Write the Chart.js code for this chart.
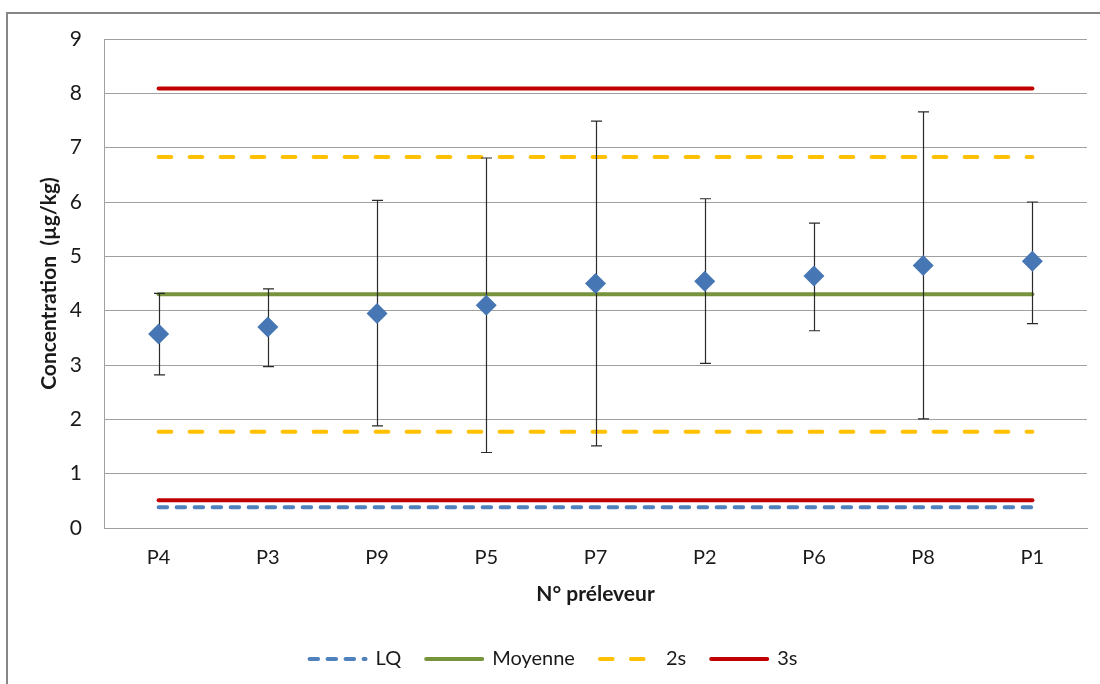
<!DOCTYPE html>
<html>
<head>
<meta charset="utf-8">
<script src="https://cdn.jsdelivr.net/npm/chart.js@4.4.1/dist/chart.umd.min.js"></script>
<style>
  html, body { margin: 0; padding: 0; background: #ffffff; }
  canvas { display: block; }
</style>
</head>
<body>
<canvas id="c" width="1100" height="684"></canvas>
<script>
// ---- Data ----
const categories = ['P4', 'P3', 'P9', 'P5', 'P7', 'P2', 'P6', 'P8', 'P1'];
const concentration = [3.57, 3.70, 3.95, 4.10, 4.50, 4.54, 4.64, 4.83, 4.91];
const errorLow  = [2.82, 2.97, 1.88, 1.39, 1.51, 3.03, 3.63, 2.01, 3.76];
const errorHigh = [4.32, 4.40, 6.03, 6.81, 7.49, 6.06, 5.61, 7.66, 6.00];
const lqValues      = [0.38, 0.38, 0.38, 0.38, 0.38, 0.38, 0.38, 0.38, 0.38];
const moyenneValues = [4.30, 4.30, 4.30, 4.30, 4.30, 4.30, 4.30, 4.30, 4.30];
const twoSHigh      = [6.83, 6.83, 6.83, 6.83, 6.83, 6.83, 6.83, 6.83, 6.83];
const twoSLow       = [1.77, 1.77, 1.77, 1.77, 1.77, 1.77, 1.77, 1.77, 1.77];
const threeSHigh    = [8.09, 8.09, 8.09, 8.09, 8.09, 8.09, 8.09, 8.09, 8.09];
const threeSLow     = [0.51, 0.51, 0.51, 0.51, 0.51, 0.51, 0.51, 0.51, 0.51];
const yTicks = [0, 1, 2, 3, 4, 5, 6, 7, 8, 9];

const FONT = 'Lato, "Liberation Sans", sans-serif';

const framePlugin = {
  id: 'frame',
  beforeDraw(chart) {
    const ctx = chart.ctx;
    ctx.save();
    ctx.fillStyle = '#ffffff';
    ctx.fillRect(0, 0, chart.width, chart.height);
    ctx.strokeStyle = '#868686';
    ctx.lineWidth = 2;
    ctx.strokeRect(7, 13, 1300, 900);
    ctx.restore();
  },
  afterLayout(chart) {
    // nudge the legend block to the right, as in the reference
    if (chart.legend) {
      chart.legend.left += 10;
      chart.legend.right += 10;
    }
  }
};

const errorBarPlugin = {
  id: 'errorBars',
  beforeDatasetDraw(chart, args) {
    if (args.index !== 0) return;
    const ctx = chart.ctx;
    const xs = chart.scales.x, ys = chart.scales.y;
    ctx.save();
    ctx.strokeStyle = '#2a2a2a';
    ctx.lineWidth = 1.2;
    categories.forEach((c, i) => {
      const px = Math.round(xs.getPixelForValue(i)) + 0.5;
      const top = ys.getPixelForValue(errorHigh[i]);
      const bot = ys.getPixelForValue(errorLow[i]);
      ctx.beginPath();
      ctx.moveTo(px, top); ctx.lineTo(px, bot);
      ctx.moveTo(px - 5.5, top); ctx.lineTo(px + 5.5, top);
      ctx.moveTo(px - 5.5, bot); ctx.lineTo(px + 5.5, bot);
      ctx.stroke();
    });
    ctx.restore();
  }
};

function refLine(label, data, color, dash, inLegend) {
  return {
    type: 'line',
    label: label,
    data: data,
    borderColor: color,
    backgroundColor: color,
    borderWidth: 4,
    borderDash: dash,
    borderCapStyle: 'round',
    pointRadius: 0,
    pointHoverRadius: 0,
    fill: false,
    tension: 0,
    showInLegend: inLegend
  };
}

new Chart(document.getElementById('c'), {
  type: 'line',
  data: {
    labels: categories,
    datasets: [
      {
        label: 'Concentration',
        data: concentration,
        showLine: false,
        pointStyle: 'rectRot',
        pointRadius: 10.5,
        pointHoverRadius: 10.5,
        pointBackgroundColor: '#4677b4',
        pointBorderColor: '#4677b4',
        pointBorderWidth: 0,
        showInLegend: false
      },
      refLine('LQ', lqValues, '#4f81bd', [8.5, 9.5], true),
      refLine('Moyenne', moyenneValues, '#77933c', [], true),
      refLine('2s', twoSHigh, '#ffc000', [12.7, 18.3], true),
      refLine('3s', threeSHigh, '#c00000', [], true),
      refLine('2s', twoSLow, '#ffc000', [12.7, 18.3], false),
      refLine('3s', threeSLow, '#c00000', [], false)
    ]
  },
  options: {
    responsive: false,
    devicePixelRatio: 1,
    animation: false,
    events: [],
    layout: { padding: { left: 0, right: 13, top: 39, bottom: 5 } },
    plugins: {
      tooltip: { enabled: false },
      legend: {
        position: 'bottom',
        labels: {
          usePointStyle: true,
          pointStyle: 'line',
          pointStyleWidth: 56,
          boxWidth: 56,
          padding: 25,
          color: '#1a1a1a',
          font: { family: FONT, size: 20 },
          generateLabels(chart) {
            const items = Chart.defaults.plugins.legend.labels.generateLabels(chart);
            items.forEach(it => {
              const ds = chart.data.datasets[it.datasetIndex];
              it.lineDash = ds.borderDash || [];
              it.lineDashOffset = 0;
              it.lineWidth = ds.borderWidth || 0;
              it.strokeStyle = ds.borderColor;
              it.fillStyle = ds.borderColor;
              it.lineCap = 'round';
              it.pointStyle = 'line';
            });
            return items;
          },
          filter: (item, data) => data.datasets[item.datasetIndex].showInLegend !== false
        }
      }
    },
    scales: {
      x: {
        type: 'category',
        offset: true,
        grid: { display: false, drawTicks: false },
        border: { display: true, color: '#a0a0a0', width: 1 },
        ticks: { color: '#1a1a1a', font: { family: FONT, size: 20 }, padding: 18, maxRotation: 0 },
        title: {
          display: true,
          text: 'N° préleveur',
          color: '#1a1a1a',
          font: { family: FONT, size: 21, weight: 'bold' },
          padding: { top: 0, bottom: 17 }
        },
        afterFit(scale) { scale.height = 96; }
      },
      y: {
        min: 0,
        max: 9,
        afterBuildTicks(scale) { scale.ticks = yTicks.map(v => ({ value: v })); },
        grid: { color: '#a0a0a0', lineWidth: 1, drawTicks: false },
        border: { display: true, color: '#a0a0a0', width: 1 },
        ticks: { color: '#1a1a1a', font: { family: FONT, size: 21 }, padding: 22 },
        title: {
          display: true,
          text: 'Concentration  (µg/kg)',
          color: '#1a1a1a',
          font: { family: FONT, size: 21, weight: 'bold' },
          padding: { top: 37, bottom: 0 }
        },
        afterFit(scale) { scale.width = 104; }
      }
    }
  },
  plugins: [framePlugin, errorBarPlugin]
});
</script>
</body>
</html>
